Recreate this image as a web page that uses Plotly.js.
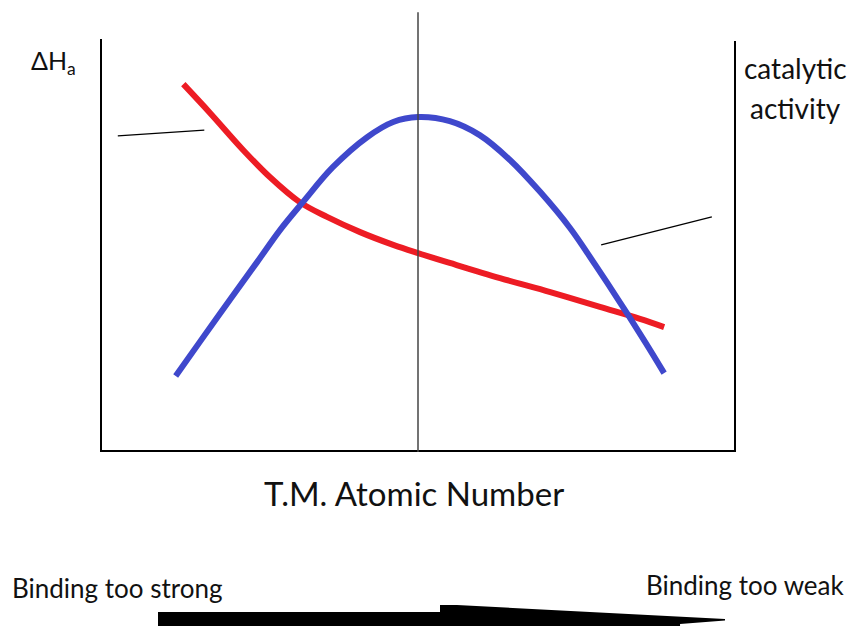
<!DOCTYPE html>
<html>
<head>
<meta charset="utf-8">
<script src="https://cdn.plot.ly/plotly-3.0.1.min.js"></script>
<style>
  html, body { margin: 0; padding: 0; background: #fff; }
  #chart { width: 852px; height: 626px; }
</style>
</head>
<body>
<div id="chart"></div>
<script>
// Schematic units: x = position along the transition-metal series (0..100), y = relative magnitude (0..100)
const redX  = [13.1, 17.3, 22.5, 26.7, 31.4, 35.7, 40.9, 46.1, 50.0, 55.0, 62.9, 70.8, 78.6, 84.9, 88.7];
const redY  = [89.5, 82.5, 73.5, 66.9, 60.8, 57.2, 53.5, 50.4, 48.4, 46.0, 42.3, 38.9, 35.3, 32.4, 30.4];

const blueX = [11.9, 15.7, 20.4, 24.7, 28.3, 31.9, 36.6, 42.0, 46.1, 50.0, 55.0, 59.7, 64.5, 69.2, 73.9, 77.8, 81.8, 85.7, 88.7];
const blueY = [18.5, 26.8, 37.0, 46.2, 54.0, 60.8, 69.3, 76.6, 80.3, 81.5, 80.5, 77.1, 71.0, 63.3, 54.5, 45.7, 36.3, 26.8, 19.2];

const yLabel      = "ΔH<sub>a</sub>";
const y2Label     = ["catalytic", "activity"];
const xLabel      = "T.M. Atomic Number";
const leftCaption = "Binding too strong";
const rightCaption= "Binding too weak";

const FONT = "Lato, 'Open Sans', sans-serif";

const traces = [
  { x: redX, y: redY, mode: "lines", type: "scatter",
    line: { color: "#ED1C24", width: 6, shape: "spline", smoothing: 1 },
    hoverinfo: "skip" },
  { x: blueX, y: blueY, mode: "lines", type: "scatter",
    line: { color: "#3F48CC", width: 6, shape: "spline", smoothing: 1 },
    hoverinfo: "skip" }
];

const shapes = [
  // frame
  { type: "line", xref: "x", yref: "y", x0: 0, x1: 0, y0: 0, y1: 100.5, line: { color: "#000", width: 4 } },
  { type: "line", xref: "x", yref: "y", x0: 100, x1: 100, y0: 0, y1: 100, line: { color: "#000", width: 4 } },
  { type: "line", xref: "x", yref: "y", x0: -0.3, x1: 100.3, y0: 0, y1: 0, line: { color: "#000", width: 4 } },
  // middle divider
  { type: "line", xref: "x", yref: "y", x0: 50, x1: 50, y0: 0, y1: 107, line: { color: "#444", width: 1.5 } },
  // leader lines
  { type: "line", xref: "x", yref: "y", x0: 2.8, x1: 16.4, y0: 76.9, y1: 78.3, line: { color: "#000", width: 1.2 } },
  { type: "line", xref: "x", yref: "y", x0: 78.8, x1: 96.2, y0: 50.4, y1: 57.2, line: { color: "#000", width: 1.2 } },
  // wedge arrow
  { type: "path", xref: "paper", yref: "paper",
    path: "M 0.0912 -0.3636 L 0.5346 -0.3636 L 0.5346 -0.3477 L 0.5613 -0.3477 L 0.9827 -0.3795 L 0.9827 -0.3830 L 0.912 -0.3909 L 0.912 -0.40 L 0.0912 -0.40 Z",
    fillcolor: "#000", line: { width: 0 } }
];

const annFont = (s) => ({ family: FONT, size: s, color: "#111" });

const annotations = [
  { text: yLabel, xref: "paper", yref: "paper", x: -0.112, y: 0.886, xanchor: "left", yanchor: "middle", showarrow: false, font: annFont(25) },
  { text: y2Label[0], xref: "paper", yref: "paper", x: 1.093, y: 0.873, xanchor: "center", yanchor: "middle", showarrow: false, font: annFont(28) },
  { text: y2Label[1], xref: "paper", yref: "paper", x: 1.093, y: 0.782, xanchor: "center", yanchor: "middle", showarrow: false, font: annFont(28) },
  { text: xLabel, xref: "paper", yref: "paper", x: 0.494, y: -0.093, xanchor: "center", yanchor: "middle", showarrow: false, font: annFont(33) },
  { text: leftCaption, xref: "paper", yref: "paper", x: -0.142, y: -0.309, xanchor: "left", yanchor: "middle", showarrow: false, font: annFont(26) },
  { text: rightCaption, xref: "paper", yref: "paper", x: 1.1745, y: -0.302, xanchor: "right", yanchor: "middle", showarrow: false, font: annFont(26) }
];

const layout = {
  width: 852, height: 626,
  margin: { l: 100, r: 116, t: 12, b: 174 },
  paper_bgcolor: "#fff", plot_bgcolor: "#fff",
  showlegend: false,
  xaxis: { range: [0, 100], visible: false, fixedrange: true },
  yaxis: { range: [0, 107.06], visible: false, fixedrange: true },
  shapes: shapes,
  annotations: annotations
};

Plotly.newPlot("chart", traces, layout, { staticPlot: true, displayModeBar: false });
</script>
</body>
</html>
